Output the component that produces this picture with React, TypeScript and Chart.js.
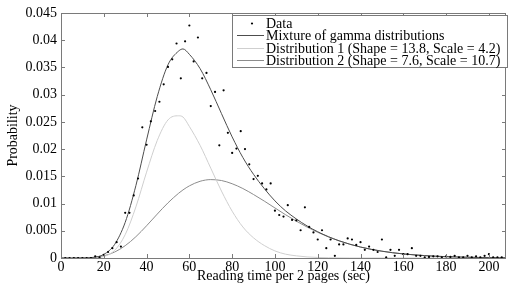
import React, { useEffect, useRef } from "react";
import { Chart, registerables } from "chart.js";

Chart.register(...registerables);

// Observed data: reading time (sec) and probability
const dataX = [
  0, 2, 4, 6, 8, 10, 12, 14, 16, 18, 20, 22, 24, 26, 28, 30, 32, 34, 36, 38,
  40, 42, 44, 46, 48, 50, 52, 54, 56, 58, 60, 62, 64, 66, 68, 70, 72, 74, 76, 78,
  80, 82, 84, 86, 88, 90, 92, 94, 96, 98, 100, 102, 104, 106, 108, 110, 112, 114, 116, 118,
  120, 122, 124, 126, 128, 130, 132, 134, 136, 138, 140, 142, 144, 146, 148, 150, 152, 154, 156, 158,
  160, 162, 164, 166, 168, 170, 172, 174, 176, 178, 180, 182, 184, 186, 188, 190, 192, 194, 196, 198,
  200, 202, 204, 206, 208,
];
const dataY = [
  0, 0, 0, 0, 0, 0, 0, 0, 0.0003, 0.0001, 0.0006, 0.0011, 0.0018, 0.0029, 0.0021, 0.0083, 0.0083, 0.0115, 0.0146, 0.024,
  0.0208, 0.0251, 0.027, 0.0287, 0.0319, 0.0351, 0.0365, 0.0394, 0.033, 0.0398, 0.0427, 0.0361, 0.0405, 0.033, 0.034, 0.0279, 0.0305, 0.0207, 0.0308, 0.023,
  0.0193, 0.0201, 0.0233, 0.02, 0.0172, 0.0145, 0.0151, 0.0137, 0.0126, 0.0137, 0.0087, 0.0079, 0.0076, 0.0097, 0.007, 0.0069, 0.0051, 0.0093, 0.0057, 0.0047,
  0.0034, 0.0051, 0.0018, 0.0034, 0.0004, 0.0025, 0.0025, 0.0036, 0.0034, 0.0024, 0.0029, 0.0015, 0.0021, 0.0015, 0.0011, 0.0034, 0.0001, 0.0015, 0.0004, 0.0015,
  0.0007, 0.0007, 0.0018, 0.0004, 0.0004, 0.0001, 0.0002, 0.0003, 0.0003, 0.0001, 0.0003, 0.0002, 0.0004, 0.0001, 0.0001, 0.0004, 0.0001, 0.0003, 0.0001, 0.0004,
  0.0007, 0.0001, 0.0001, 0.0001, 0.0004,
];

// Fitted curves
const curveX = [
  0, 5, 10, 15, 20, 25, 30, 35, 40, 45, 50, 55, 57, 60, 65, 70, 75, 80, 85, 90,
  95, 100, 105, 110, 115, 120, 125, 130, 135, 140, 145, 150, 155, 160, 165, 170, 175, 180, 185, 190,
  195, 200, 205, 208,
];
const dist1Y = [
  0, 0, 0, 0.00002, 0.00026, 0.00137, 0.00428, 0.00938, 0.01577, 0.0216, 0.02536, 0.02612, 0.0259, 0.02416, 0.0207, 0.0165, 0.0123, 0.0086, 0.0057, 0.0037,
  0.0023, 0.0013, 0.0007, 0.0004, 0.0002, 0.0001, 0.00005, 0.00002, 0, 0, 0, 0, 0, 0, 0, 0, 0, 0, 0, 0,
  0, 0, 0, 0,
];
const dist2Y = [
  0, 0, 0.00001, 0.00009, 0.0004, 0.00108, 0.00226, 0.00391, 0.00592, 0.00807, 0.01013, 0.0119, 0.0125, 0.01325, 0.01409, 0.0144, 0.01423, 0.01364, 0.01276, 0.01166,
  0.01046, 0.00919, 0.00794, 0.00677, 0.00569, 0.00472, 0.00387, 0.00314, 0.00253, 0.00201, 0.00159, 0.00125, 0.00097, 0.00075, 0.00058, 0.00044, 0.00033, 0.00025, 0.00019, 0.00014,
  0.0001, 0.00008, 0.00006, 0.00005,
];
const mixtureY = [
  0, 0, 0.00001, 0.00011, 0.00066, 0.00245, 0.00654, 0.01329, 0.02169, 0.02967, 0.03549, 0.03802, 0.0384, 0.03741, 0.03479, 0.0309, 0.02653, 0.02224, 0.01846, 0.01536,
  0.01276, 0.01049, 0.00864, 0.00717, 0.00589, 0.00482, 0.00392, 0.00316, 0.00253, 0.00201, 0.00159, 0.00125, 0.00097, 0.00075, 0.00058, 0.00044, 0.00033, 0.00025, 0.00019, 0.00014,
  0.0001, 0.00008, 0.00006, 0.00005,
];

const seriesLabels = [
  "Data",
  "Mixture of gamma distributions",
  "Distribution 1 (Shape = 13.8, Scale = 4.2)",
  "Distribution 2 (Shape = 7.6, Scale = 10.7)",
];
const xTitle = "Reading time per 2 pages (sec)";
const yTitle = "Probability";

const FONT = "'Liberation Serif', 'Times New Roman', serif";
const AXIS_COLOR = "#7a7a7a";

const boxPlugin = {
  id: "matlabBox",
  afterDraw(chart: any) {
    const { ctx, chartArea: a, scales } = chart;
    ctx.save();
    ctx.strokeStyle = AXIS_COLOR;
    ctx.lineWidth = 1;
    ctx.beginPath();
    ctx.rect(Math.round(a.left) + 0.5, Math.round(a.top) + 0.5, Math.round(a.right - a.left) - 1, Math.round(a.bottom - a.top));
    ctx.stroke();
    const tl = 4;
    ctx.beginPath();
    scales.x.ticks.forEach((t: any) => {
      const px = Math.round(scales.x.getPixelForValue(t.value)) + 0.5;
      ctx.moveTo(px, a.bottom);
      ctx.lineTo(px, a.bottom - tl);
      ctx.moveTo(px, a.top);
      ctx.lineTo(px, a.top + tl);
    });
    scales.y.ticks.forEach((t: any) => {
      const py = Math.round(scales.y.getPixelForValue(t.value)) + 0.5;
      ctx.moveTo(a.left, py);
      ctx.lineTo(a.left + tl, py);
      ctx.moveTo(a.right, py);
      ctx.lineTo(a.right - tl, py);
    });
    ctx.stroke();

    // Legend box
    const lx = 232.5, ly = 15.5, lw = 275, lh = 52;
    ctx.fillStyle = "#ffffff";
    ctx.fillRect(lx, ly, lw, lh);
    ctx.strokeStyle = AXIS_COLOR;
    ctx.strokeRect(lx, ly, lw, lh);
    ctx.font = `14px ${FONT}`;
    ctx.textBaseline = "middle";
    ctx.textAlign = "left";
    const rowY = [23.5, 35.5, 48.5, 60.5];
    chart.data.datasets.forEach((ds: any, i: number) => {
      const y = rowY[i];
      if (i === 0) {
        ctx.fillStyle = "#000";
        ctx.beginPath();
        ctx.arc(252, y, 1.1, 0, Math.PI * 2);
        ctx.fill();
      } else {
        ctx.strokeStyle = ds.borderColor;
        ctx.lineWidth = 1;
        ctx.beginPath();
        ctx.moveTo(237, y);
        ctx.lineTo(264, y);
        ctx.stroke();
      }
      ctx.fillStyle = "#000";
      ctx.fillText(ds.label, 266, y + 0.5);
    });
    ctx.restore();
  },
};

export default function App() {
  const ref = useRef<HTMLCanvasElement | null>(null);
  useEffect(() => {
    document.body.style.margin = "0";
    const canvas = ref.current;
    if (!canvas) return;
    const pts = (xs: number[], ys: number[]) => xs.map((x, i) => ({ x, y: ys[i] }));
    const chart = new Chart(canvas, {
      type: "line",
      data: {
        datasets: [
          {
            label: seriesLabels[0],
            data: pts(dataX, dataY),
            showLine: false,
            pointRadius: 1.1,
            pointBackgroundColor: "#000",
            pointBorderWidth: 0,
            borderColor: "#000",
            backgroundColor: "#000",
          },
          {
            label: seriesLabels[1],
            data: pts(curveX, mixtureY),
            borderColor: "#4d4d4d",
            borderWidth: 1,
            pointRadius: 0,
            cubicInterpolationMode: "monotone",
          },
          {
            label: seriesLabels[2],
            data: pts(curveX, dist1Y),
            borderColor: "#cfcfcf",
            borderWidth: 1,
            pointRadius: 0,
            cubicInterpolationMode: "monotone",
          },
          {
            label: seriesLabels[3],
            data: pts(curveX, dist2Y),
            borderColor: "#8c8c8c",
            borderWidth: 1,
            pointRadius: 0,
            cubicInterpolationMode: "monotone",
          },
        ],
      },
      options: {
        animation: false,
        responsive: false,
        maintainAspectRatio: false,
        layout: { padding: { top: 13, right: 1, left: 0, bottom: 0 } },
        plugins: { legend: { display: false }, tooltip: { enabled: false } },
        scales: {
          x: {
            type: "linear",
            min: 0,
            max: 208,
            grid: { display: false, drawTicks: false },
            border: { display: false },
            ticks: {
              stepSize: 20,
              includeBounds: false,
              padding: 1,
              color: "#000",
              font: { family: FONT, size: 14 },
              maxRotation: 0,
            },
            title: {
              display: true,
              text: xTitle,
              color: "#000",
              font: { family: FONT, size: 14 },
              padding: { top: 0, bottom: 1.5 },
            },
            afterFit: (s: any) => {
              s.height = 28;
            },
          },
          y: {
            type: "linear",
            min: 0,
            max: 0.045,
            grid: { display: false, drawTicks: false },
            border: { display: false },
            ticks: {
              stepSize: 0.005,
              includeBounds: false,
              padding: 4,
              color: "#000",
              font: { family: FONT, size: 14 },
              callback: (v: any) => String(+Number(v).toFixed(3)),
            },
            title: {
              display: true,
              text: yTitle,
              color: "#000",
              font: { family: FONT, size: 14 },
              padding: { top: 5, bottom: 0 },
            },
            afterFit: (s: any) => {
              s.width = 61;
            },
          },
        },
      },
      plugins: [boxPlugin],
    } as any);
    return () => chart.destroy();
  }, []);
  return (
    <div style={{ position: "fixed", left: 0, top: 0, width: 510, height: 286, background: "#fff" }}>
      <canvas ref={ref} width={510} height={286} style={{ width: 510, height: 286, display: "block" }} />
    </div>
  );
}
